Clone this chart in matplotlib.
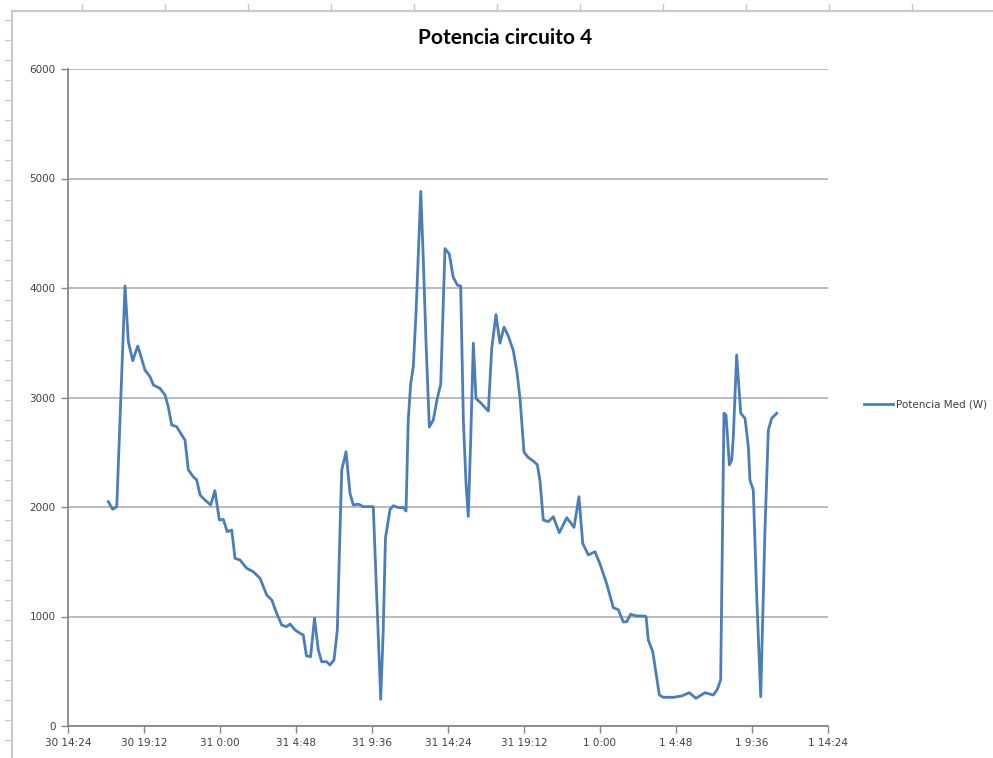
import matplotlib
matplotlib.use("Agg")
import matplotlib.pyplot as plt
from matplotlib.lines import Line2D

# horas desde 30 14:24
horas = [2.55, 2.82, 3.08, 3.60, 3.81, 4.09, 4.40, 4.55, 4.86, 5.18, 5.39, 5.81,
         6.13, 6.33, 6.55, 6.87, 7.18, 7.39, 7.60, 7.91, 8.13, 8.34, 8.65, 9.01,
         9.28, 9.56, 9.81, 10.06, 10.34, 10.55, 10.86, 11.29, 11.70, 12.13, 12.55,
         12.87, 13.18, 13.50, 13.81, 14.02, 14.34, 14.65, 14.86, 15.06, 15.32,
         15.57, 15.81, 16.02, 16.34, 16.55, 16.80, 17.01, 17.18, 17.29, 17.56,
         17.81, 18.02, 18.34, 18.65, 19.28, 19.50, 19.75, 19.91, 20.05, 20.34,
         20.55, 20.86, 21.18, 21.35, 21.49, 21.64, 21.81, 21.98, 22.28, 22.44,
         22.61, 22.82, 23.07, 23.32, 23.54, 23.81, 24.08, 24.33, 24.59, 24.80,
         24.97, 25.14, 25.28, 25.43, 25.60, 25.77, 26.02, 26.34, 26.55, 26.76,
         27.03, 27.28, 27.54, 27.81, 28.12, 28.34, 28.55, 28.80, 29.07, 29.39,
         29.64, 29.81, 30.02, 30.34, 30.65, 31.03, 31.50, 31.96, 32.27, 32.51,
         32.86, 33.28, 33.60, 34.02, 34.44, 34.76, 35.07, 35.29, 35.53, 35.92,
         36.23, 36.51, 36.65, 36.93, 37.14, 37.35, 37.60, 38.23, 38.76, 39.24,
         39.66, 40.23, 40.76, 41.01, 41.22, 41.43, 41.56, 41.77, 41.92, 42.02,
         42.23, 42.49, 42.76, 42.97, 43.07, 43.28, 43.50, 43.75, 44.02, 44.23,
         44.44, 44.76]

potencia = [2048, 1979, 2003, 4018, 3510, 3336, 3470, 3404, 3251, 3190, 3114, 3083,
            3023, 2916, 2749, 2733, 2658, 2612, 2338, 2277, 2247, 2110, 2064, 2018,
            2149, 1881, 1887, 1774, 1790, 1531, 1516, 1440, 1409, 1349, 1196,
            1151, 1029, 922, 907, 932, 877, 847, 831, 640, 633,
            984, 694, 587, 587, 557, 603, 877, 1790, 2338, 2505,
            2125, 2018, 2027, 2003, 2003, 1180, 244, 877, 1718, 1979,
            2012, 1995, 1995, 1963, 2795, 3121, 3284, 3773, 4882, 4262,
            3512, 2730, 2795, 2990, 3121, 4360, 4311, 4099, 4027, 4017,
            2795, 2207, 1914, 2599, 3496, 2990, 2958, 2909, 2876, 3447,
            3757, 3496, 3643, 3561, 3430, 3251, 2990, 2501, 2452, 2419,
            2387, 2240, 1881, 1866, 1911, 1765, 1902, 1814, 2094, 1668,
            1562, 1592, 1480, 1300, 1080, 1062, 950, 953, 1020, 1005,
            1005, 1000, 785, 679, 481, 283, 262, 262, 274, 304,
            253, 304, 283, 335, 420, 2856, 2840, 2384, 2429, 2642,
            3388, 2856, 2809, 2551, 2247, 2155, 1181, 268, 1790, 2703,
            2809, 2856]

xticks = [0, 4.8, 9.6, 14.4, 19.2, 24, 28.8, 33.6, 38.4, 43.2, 48]
xlabels = ["30 14:24", "30 19:12", "31 0:00", "31 4:48", "31 9:36", "31 14:24",
           "31 19:12", "1 0:00", "1 4:48", "1 9:36", "1 14:24"]
yticks = [0, 1000, 2000, 3000, 4000, 5000, 6000]

W, H = 993, 758
fig = plt.figure(figsize=(W / 100, H / 100), dpi=100)
ax = fig.add_axes([68 / W, 1 - 726 / H, 760 / W, 657 / H])

ax.plot(horas, potencia, color="#4a7ebb", lw=2, label="Potencia Med (W)",
        solid_joinstyle="round")

ax.set_xlim(0, 48)
ax.set_ylim(0, 6000)
ax.set_xticks(xticks)
ax.set_xticklabels(xlabels)
ax.set_yticks(yticks)
ax.tick_params(axis="both", labelsize=7.5, colors="#404040", length=5,
               width=1, direction="out", pad=4)
ax.tick_params(axis="both", color="#888888")
ax.grid(axis="y", color="#a8a8a8", lw=1.1)
ax.set_axisbelow(True)
for s in ["top", "right"]:
    ax.spines[s].set_visible(False)
for s in ["left", "bottom"]:
    ax.spines[s].set_color("#888888")
    ax.spines[s].set_linewidth(1.3)

fig.text(505 / W, 1 - 38 / H, "Potencia circuito 4", ha="center", va="center",
         fontsize=15, fontweight="bold", family=["Lato", "DejaVu Sans"])

ax.legend(loc="center left", bbox_to_anchor=(1.035, 0.489), frameon=False,
          fontsize=7.5, handlelength=2.8, handletextpad=0.3, labelcolor="#404040")

# restos de la hoja de cálculo: borde superior e izquierdo
gris = "#c8c8c8"
fig.add_artist(Line2D([12 / W, 1], [1 - 11 / H, 1 - 11 / H], color=gris, lw=1.5))
fig.add_artist(Line2D([12 / W, 12 / W], [0, 1 - 11 / H], color=gris, lw=1.5))
for cx in range(82, W, 83):
    fig.add_artist(Line2D([cx / W, cx / W], [1 - 4 / H, 1 - 11 / H], color=gris, lw=1))
for ry in range(20, H, 20):
    fig.add_artist(Line2D([5 / W, 12 / W], [1 - ry / H, 1 - ry / H], color=gris, lw=1))

fig.savefig("out.png", dpi=100)
